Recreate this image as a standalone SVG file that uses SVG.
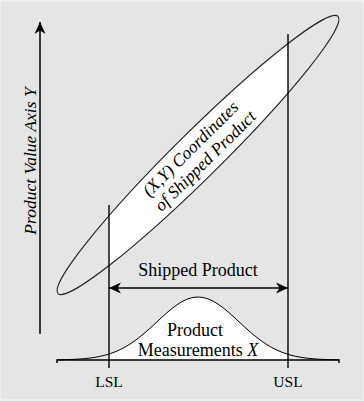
<svg xmlns="http://www.w3.org/2000/svg" width="364" height="401" viewBox="0 0 364 401">
  <style>
    .txt { font-family: "Liberation Serif", "Times New Roman", serif; fill: #000; }
    .it { font-style: italic; }
    .ln { stroke: #000; fill: none; }
  </style>
  <defs>
    <clipPath id="strip">
      <rect x="109" y="0" width="179" height="401"/>
    </clipPath>
    <marker id="ah" viewBox="-13 -7 14 14" refX="0" refY="0" markerWidth="14" markerHeight="14" markerUnits="userSpaceOnUse" orient="auto-start-reverse">
      <path d="M0,0 L-12,-5.5 L-8.5,0 L-12,5.5 Z" fill="#000"/>
    </marker>
  </defs>

  <rect x="0" y="0" width="364" height="401" fill="#efefef"/>
  <rect x="1" y="2" width="362" height="397" fill="#e5e5e5"/>

  <g id="ellipse">
    <g clip-path="url(#strip)">
      <ellipse cx="198" cy="155" rx="197" ry="23" transform="rotate(-44.7 198 155)" fill="#fff" stroke="none"/>
    </g>
    <ellipse cx="198" cy="155" rx="197" ry="23" transform="rotate(-44.7 198 155)" fill="none" stroke="#222" stroke-width="1.1"/>
    <g transform="translate(198 155) rotate(-44.7)">
      <text class="txt it" x="-1" y="-4" font-size="17.5" text-anchor="middle">(X,Y) Coordinates</text>
      <text class="txt it" x="1" y="15" font-size="17.5" text-anchor="middle">of Shipped Product</text>
    </g>
  </g>

  <g id="bell">
    <g clip-path="url(#strip)">
      <path fill="#fff" stroke="none" d="M57,360 L57,359.83 L63,359.72 L68,359.59 L73,359.4 L78,359.13 L83,358.77 L88,358.28 L93,357.63 L98,356.78 L103,355.7 L108,354.34 L113,352.65 L118,350.61 L123,348.18 L128,345.33 L133,342.07 L138,338.4 L143,334.39 L148,330.05 L153,325.5 L158,320.9 L163,316.24 L168,311.8 L173,307.68 L178,304.1 L183,301.08 L188,298.85 L193,297.47 L198,297 L203,297.47 L208,298.85 L213,301.08 L218,304.1 L223,307.68 L228,311.8 L233,316.24 L238,320.9 L243,325.5 L248,330.05 L253,334.39 L258,338.4 L263,342.07 L268,345.33 L273,348.18 L278,350.61 L283,352.65 L288,354.34 L293,355.7 L298,356.78 L303,357.63 L308,358.28 L313,358.77 L318,359.13 L323,359.4 L328,359.59 L333,359.72 L339,359.83 L339,360 Z"/>
    </g>
    <path class="ln" stroke="#333" stroke-width="1" d="M57,359.83 L63,359.72 L68,359.59 L73,359.4 L78,359.13 L83,358.77 L88,358.28 L93,357.63 L98,356.78 L103,355.7 L108,354.34 L113,352.65 L118,350.61 L123,348.18 L128,345.33 L133,342.07 L138,338.4 L143,334.39 L148,330.05 L153,325.5 L158,320.9 L163,316.24 L168,311.8 L173,307.68 L178,304.1 L183,301.08 L188,298.85 L193,297.47 L198,297 L203,297.47 L208,298.85 L213,301.08 L218,304.1 L223,307.68 L228,311.8 L233,316.24 L238,320.9 L243,325.5 L248,330.05 L253,334.39 L258,338.4 L263,342.07 L268,345.33 L273,348.18 L278,350.61 L283,352.65 L288,354.34 L293,355.7 L298,356.78 L303,357.63 L308,358.28 L313,358.77 L318,359.13 L323,359.4 L328,359.59 L333,359.72 L339,359.83"/>
    <text class="txt" x="195" y="336" font-size="18" text-anchor="middle">Product</text>
    <text class="txt" x="198" y="356" font-size="18" text-anchor="middle">Measurements <tspan class="it">X</tspan></text>
  </g>

  <g id="axes">
    <path class="ln" stroke-width="1.5" d="M57,363 L57,360 L339,360 L339,363"/>
    <path class="ln" stroke-width="1.5" d="M40,334 L40,22" marker-end="url(#ah)"/>
    <text class="txt it" transform="translate(36 161) rotate(-90)" font-size="17.5" text-anchor="middle">Product Value Axis Y</text>
  </g>

  <g id="limits">
    <path class="ln" stroke-width="1.4" d="M109,205 L109,368"/>
    <path class="ln" stroke-width="1.4" d="M288,34 L288,368"/>
    <text class="txt" x="109" y="387" font-size="15.5" text-anchor="middle">LSL</text>
    <text class="txt" x="288" y="387" font-size="15.5" text-anchor="middle">USL</text>
  </g>

  <g id="connectors">
    <path class="ln" stroke-width="1.5" d="M109,288 L288,288" marker-start="url(#ah)" marker-end="url(#ah)"/>
    <text class="txt" x="198" y="276" font-size="18" text-anchor="middle">Shipped Product</text>
  </g>
</svg>
